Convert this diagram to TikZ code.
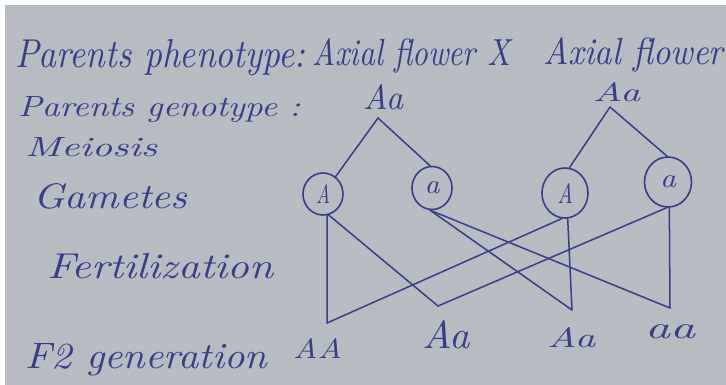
\documentclass[tikz,border=0pt]{standalone}
\usetikzlibrary{shapes.geometric}
\definecolor{paper}{RGB}{182,188,194}
\definecolor{ink}{RGB}{58,60,138}
\newcommand{\hw}[3]{\resizebox{#1pt}{#2pt}{\itshape #3}}
\begin{document}
\begin{tikzpicture}[x=1pt,y=-1pt,
  lbl/.style={anchor=base west, inner sep=0pt, text=ink},
  gam/.style={ellipse, draw=ink, line width=1.6pt, inner sep=0pt, text=ink},
  link/.style={draw=ink, line width=1.5pt, line cap=round}]
\useasboundingbox (0,0) rectangle (726,385);
\fill[white] (0,0) rectangle (726,385);
\fill[paper] (5,5) rectangle (726,385);
\begin{scope}
\clip (0,0) rectangle (726,385);
% labels
\node[lbl] (ph1) at (15,68) {\hw{290}{28}{Parents phenotype:}};
\node[lbl] (ph2) at (312,66) {\hw{198}{27}{Axial flower X}};
\node[lbl] (ph3) at (543,65) {\hw{180}{27}{Axial flower}};
\node[lbl] (gt) at (18,117) {\hw{282}{20}{Parents genotype :}};
\node[lbl] (mei) at (25,157) {\hw{132}{19}{Meiosis}};
\node[lbl] (gmt) at (33,208) {\hw{154}{25}{Gametes}};
\node[lbl] (fer) at (47,278) {\hw{226}{25}{Fertilization}};
\node[lbl] (f2) at (25,368) {\hw{242}{25}{F2 generation}};
% parents
\node[lbl] (P1) at (363,110) {\hw{40}{25}{Aa}};
\node[lbl] (P2) at (593,102) {\hw{47}{19}{Aa}};
\coordinate (ap1) at (378,118);
\coordinate (ap2) at (610,107);
% gametes
\node[gam, minimum width=40pt, minimum height=42pt] (gA1) at (323,194) {\hw{14}{19}{A}};
\node[gam, minimum width=40pt, minimum height=43pt] (ga1) at (432,188) {\hw{15}{12}{a}};
\node[gam, minimum width=46pt, minimum height=50pt] (gA2) at (565,193) {\hw{16}{20}{A}};
\node[gam, minimum width=47pt, minimum height=50pt] (ga2) at (668,182) {\hw{16}{12}{a}};
% offspring
\node[lbl] (oAA) at (293,358) {\hw{49}{20}{AA}};
\node[lbl] (oAa1) at (422,348) {\hw{48}{28}{Aa}};
\node[lbl] (oAa2) at (547,347) {\hw{48}{20}{Aa}};
\node[lbl] (oaa) at (645,338) {\hw{50}{14}{aa}};
\coordinate (jAA) at (327,323);
\coordinate (jAa1) at (438,306);
\coordinate (jAa2) at (572,310);
\coordinate (jaa) at (670,308);
% meiosis lines
\draw[link] (ap1) -- (gA1.54);
\draw[link] (ap1) -- (ga1.95);
\draw[link] (ap2) -- (gA2.80);
\draw[link] (ap2) -- (ga2.92);
% fertilization lines
\draw[link] (gA1.-79) -- (jAA);
\draw[link] (gA1.-75) -- (jAa1);
\draw[link] (ga1.-95) -- (jAa2);
\draw[link] (ga1.-95) -- (jaa);
\draw[link] (gA2.-97) -- (jAA);
\draw[link] (gA2.-84) -- (jAa2);
\draw[link] (ga2.-93) -- (jAa1);
\draw[link] (ga2.-87) -- (jaa);
\end{scope}
\end{tikzpicture}
\end{document}
